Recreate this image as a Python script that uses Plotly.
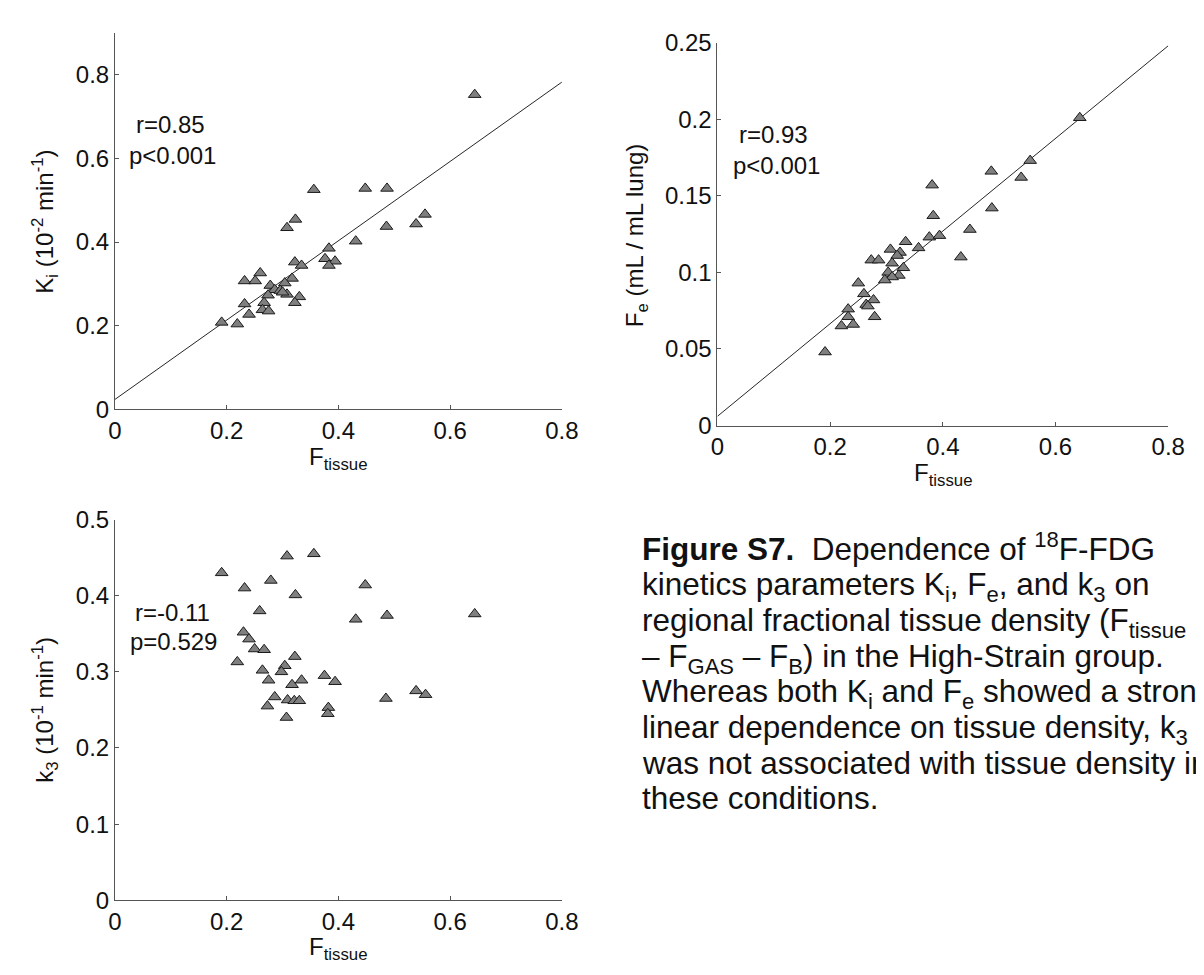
import plotly.graph_objects as go

W, H = 1204, 975
FONT = "Liberation Sans, Arial, Helvetica, sans-serif"

# ---------------- data ----------------
ki_x = [0.644, 0.356, 0.448, 0.487, 0.323, 0.308, 0.555, 0.539, 0.486, 0.431,
        0.383, 0.376, 0.394, 0.383, 0.322, 0.334, 0.317, 0.260, 0.232, 0.251,
        0.278, 0.304, 0.286, 0.296, 0.274, 0.308, 0.330, 0.322, 0.232, 0.267,
        0.264, 0.275, 0.240, 0.191, 0.219, 0.300]
ki_y = [0.752, 0.525, 0.528, 0.528, 0.454, 0.434, 0.466, 0.443, 0.437, 0.402,
        0.385, 0.360, 0.354, 0.344, 0.352, 0.344, 0.313, 0.326, 0.307, 0.307,
        0.296, 0.302, 0.286, 0.284, 0.273, 0.275, 0.269, 0.255, 0.252, 0.255,
        0.238, 0.235, 0.227, 0.208, 0.204, 0.280]
ki_fit_x = [0.0, 0.8]
ki_fit_y = [0.024, 0.782]

fe_x = [0.555, 0.486, 0.539, 0.381, 0.487, 0.383, 0.448, 0.376, 0.394, 0.334,
        0.357, 0.307, 0.324, 0.319, 0.432, 0.273, 0.286, 0.310, 0.330, 0.303,
        0.322, 0.310, 0.297, 0.250, 0.260, 0.277, 0.264, 0.267, 0.232, 0.232,
        0.279, 0.220, 0.241, 0.191, 0.643]
fe_y = [0.173, 0.166, 0.162, 0.157, 0.142, 0.137, 0.128, 0.123, 0.124, 0.120,
        0.116, 0.115, 0.113, 0.111, 0.110, 0.108, 0.108, 0.106, 0.103, 0.100,
        0.098, 0.097, 0.095, 0.093, 0.086, 0.082, 0.079, 0.078, 0.076, 0.071,
        0.071, 0.065, 0.066, 0.048, 0.201]
fe_fit_x = [0.0, 0.8]
fe_fit_y = [0.006, 0.248]

k3_x = [0.308, 0.356, 0.191, 0.279, 0.232, 0.448, 0.323, 0.644, 0.487, 0.431,
        0.259, 0.230, 0.240, 0.250, 0.267, 0.219, 0.322, 0.264, 0.304, 0.298,
        0.275, 0.317, 0.334, 0.375, 0.394, 0.286, 0.309, 0.321, 0.330, 0.273,
        0.382, 0.381, 0.307, 0.485, 0.539, 0.556]
k3_y = [0.452, 0.455, 0.430, 0.420, 0.410, 0.414, 0.401, 0.376, 0.374, 0.369,
        0.380, 0.352, 0.343, 0.330, 0.329, 0.313, 0.320, 0.302, 0.308, 0.300,
        0.289, 0.283, 0.289, 0.295, 0.287, 0.267, 0.263, 0.262, 0.262, 0.255,
        0.253, 0.245, 0.240, 0.265, 0.275, 0.270]

x_ticks = [0, 0.2, 0.4, 0.6, 0.8]
x_ticktext = ["0", "0.2", "0.4", "0.6", "0.8"]
ki_ticks = [0, 0.2, 0.4, 0.6, 0.8]
ki_ticktext = ["0", "0.2", "0.4", "0.6", "0.8"]
fe_ticks = [0, 0.05, 0.1, 0.15, 0.2, 0.25]
fe_ticktext = ["0", "0.05", "0.1", "0.15", "0.2", "0.25"]
k3_ticks = [0, 0.1, 0.2, 0.3, 0.4, 0.5]
k3_ticktext = ["0", "0.1", "0.2", "0.3", "0.4", "0.5"]

caption_lines = [
    "<b>Figure S7.</b>&nbsp; Dependence of <sup>18</sup>F-FDG",
    "kinetics parameters K<sub>i</sub>, F<sub>e</sub>, and k<sub>3</sub> on",
    "regional fractional tissue density (F<sub>tissue</sub> = 1",
    "– F<sub>GAS</sub> – F<sub>B</sub>) in the High-Strain group.",
    "Whereas both K<sub>i</sub> and F<sub>e</sub> showed a strong",
    "linear dependence on tissue density, k<sub>3</sub>",
    "was not associated with tissue density in",
    "these conditions.",
]


def px(x):
    return x / W


def py(y):
    return 1 - y / H


fig = go.Figure()

marker = dict(symbol="triangle-up", size=11, color="#7f7f7f",
              line=dict(color="#1a1a1a", width=1))
line_style = dict(color="#262626", width=1)

fig.add_trace(go.Scatter(x=ki_fit_x, y=ki_fit_y, mode="lines", line=line_style,
                         xaxis="x", yaxis="y", showlegend=False, hoverinfo="skip"))
fig.add_trace(go.Scatter(x=ki_x, y=ki_y, mode="markers", marker=marker,
                         xaxis="x", yaxis="y", showlegend=False))
fig.add_trace(go.Scatter(x=fe_fit_x, y=fe_fit_y, mode="lines", line=line_style,
                         xaxis="x2", yaxis="y2", showlegend=False, hoverinfo="skip"))
fig.add_trace(go.Scatter(x=fe_x, y=fe_y, mode="markers", marker=marker,
                         xaxis="x2", yaxis="y2", showlegend=False))
fig.add_trace(go.Scatter(x=k3_x, y=k3_y, mode="markers", marker=marker,
                         xaxis="x3", yaxis="y3", showlegend=False))

axis_common = dict(showline=True, linecolor="#555555", linewidth=1,
                   ticks="inside", ticklen=4, tickcolor="#555555",
                   showgrid=False, zeroline=False, mirror=False,
                   tickfont=dict(family=FONT, size=24, color="#111111"),
                   fixedrange=True)

fig.update_layout(
    width=W, height=H,
    margin=dict(l=0, r=0, t=0, b=0),
    paper_bgcolor="white", plot_bgcolor="white",
    xaxis=dict(domain=[px(102), px(558)], range=[0, 0.8], anchor="y",
               tickvals=x_ticks, ticktext=x_ticktext, **axis_common),
    yaxis=dict(domain=[py(398.5), py(11)], range=[0, 0.9], anchor="x",
               tickvals=ki_ticks, ticktext=ki_ticktext, **axis_common),
    xaxis2=dict(domain=[px(716.7), px(1176.7)], range=[0, 0.8], anchor="y2",
                tickvals=x_ticks, ticktext=x_ticktext, **axis_common),
    yaxis2=dict(domain=[py(415), py(21.3)], range=[0, 0.25], anchor="x2",
                tickvals=fe_ticks, ticktext=fe_ticktext, **axis_common),
    xaxis3=dict(domain=[px(102), px(558)], range=[0, 0.8], anchor="y3",
                tickvals=x_ticks, ticktext=x_ticktext, **axis_common),
    yaxis3=dict(domain=[py(903.3), py(511.7)], range=[0, 0.5], anchor="x3",
                tickvals=k3_ticks, ticktext=k3_ticktext, **axis_common),
)

tfont = dict(family=FONT, size=24, color="#111111")
ann = []


def text(x, y, s, **kw):
    d = dict(x=px(x), y=py(y), xref="paper", yref="paper", text=s,
             showarrow=False, font=tfont, xanchor="center", yanchor="middle")
    d.update(kw)
    ann.append(d)


# statistics
text(159, 105, "r=0.85")
text(161, 137, "p<0.001")
text(774, 116, "r=0.93")
text(777, 148, "p<0.001")
text(161, 607, "r=-0.11")
text(162, 637, "p=0.529")

# axis titles
text(330, 449, "F<sub>tissue</sub>")
text(947, 465, "F<sub>tissue</sub>")
text(330, 953, "F<sub>tissue</sub>")
text(31, 205, "K<sub>i</sub> (10<sup>-2</sup> min<sup>-1</sup>)", textangle=-90)
text(635, 219, "F<sub>e</sub> (mL / mL lung)", textangle=-90)
text(31, 707, "k<sub>3</sub> (10<sup>-1</sup> min<sup>-1</sup>)", textangle=-90)

# caption: one annotation per line so that the line pitch matches
CAP_SIZE = 31.5
first_baseline = 553
pitch = 36.6
for i, line in enumerate(caption_lines):
    base = first_baseline + i * pitch
    top = -0.905 * CAP_SIZE
    bottom = 0.212 * CAP_SIZE
    if "<sup>" in line:
        top = min(top, -(0.6 + 0.905) * 0.7 * CAP_SIZE)
    if "<sub>" in line:
        bottom = max(bottom, (0.3 + 0.212) * 0.7 * CAP_SIZE)
    center = base + (top + bottom) / 2
    ann.append(dict(x=px(638), y=py(center), xref="paper", yref="paper",
                    text=line, showarrow=False,
                    font=dict(family=FONT, size=CAP_SIZE, color="#111111"),
                    align="left", xanchor="left", yanchor="middle"))

fig.update_layout(annotations=ann)

fig.write_html("out.html")
